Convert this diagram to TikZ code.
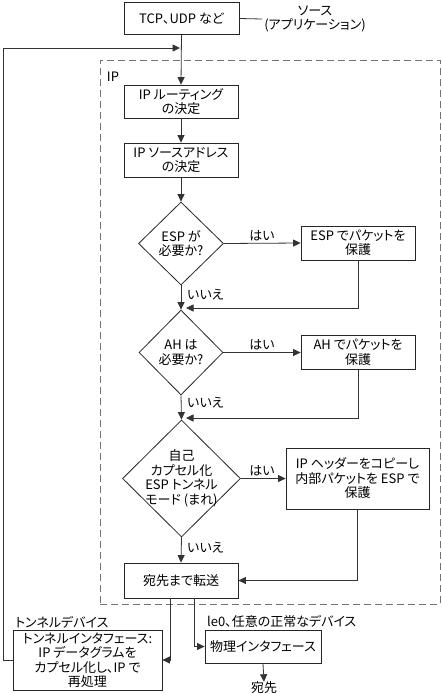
\documentclass[tikz,border=0pt]{standalone}
\usepackage{fontspec}
\setmainfont{Noto Sans CJK JP}[RawFeature=+palt]
\usetikzlibrary{shapes.geometric,arrows.meta}
\begin{document}
\begin{tikzpicture}[x=1pt,y=-1pt,
  every node/.style={font=\fontsize{13}{14.5}\selectfont, inner sep=0pt, align=center},
  box/.style={draw=black!85, line width=0.8pt, minimum width=114pt, minimum height=34pt},
  dia/.style={diamond, draw=black!85, line width=0.8pt},
  ipframe/.style={draw=black!55, line width=1pt, dash pattern=on 7pt off 4pt},
  ln/.style={draw=black!80, line width=0.8pt},
  arr/.style={ln, -{Triangle[length=7.5pt,width=7pt]}}
]
\useasboundingbox (0,0) rectangle (442,694);

% frame
\node[ipframe, minimum width=340pt, minimum height=544pt] (ipbox) at (270,332) {};
\node (iplab) at (113,77) {IP};

% nodes
\node[box, minimum width=115pt, minimum height=32pt] (top) at (181.5,18.5) {TCP、UDP など};
\node (srclab) at (315,19) {ソース\\(アプリケーション)};
\coordinate (loopin) at (180,48);
\node[box, minimum height=33pt] (route) at (181,101.5) {IP ルーティング\\の決定};
\node[box] (saddr) at (181,160) {IP ソースアドレス\\の決定};

\node[dia, minimum width=85pt, minimum height=83pt] (espd) at (181,243.5) {};
\node (espdt) at (espd.center) {ESP が\\必要か?};
\node[box] (espbox) at (358,243) {ESP でパケットを\\保護};
\coordinate (m1) at (186,308);

\node[dia, minimum width=84pt, minimum height=85pt] (ahd) at (181,352.5) {};
\node (ahdt) at (ahd.center) {AH は\\必要か?};
\node[box] (ahbox) at (358,352.5) {AH でパケットを\\保護};
\coordinate (m2) at (186,418);

\node[dia, minimum width=118pt, minimum height=117pt] (selfd) at (181.5,478.5) {};
\node (selfdt) at (selfd.center) {自己\\カプセル化\\ESP トンネル\\モード (まれ)};
\node[box, minimum width=143pt, minimum height=61pt] (big) at (357.5,478.5) {IP ヘッダーをコピーし\\内部パケットを ESP で\\保護};

\node[box, minimum height=35pt] (fwd) at (181,580.5) {宛先まで転送};

\node[box, minimum width=149pt, minimum height=60pt] (tun) at (87.5,660) {トンネルインタフェース:\\IP データグラムを\\カプセル化し、IP で\\再処理};
\node[anchor=west] (tunlab) at (15,622) {トンネルデバイス};
\node[box, minimum width=116pt, minimum height=33pt] (phys) at (263,646.5) {物理インタフェース};
\node[anchor=west] (physlab) at (207,621) {le0、任意の正常なデバイス};
\node (dest) at (264,688) {宛先};

% labels
\node[anchor=west] (no1) at (187,295) {いいえ};
\node (yes1) at (262,236) {はい};
\node[anchor=west] (no2) at (187,403) {いいえ};
\node (yes2) at (262,345) {はい};
\node[anchor=west] (no3) at (187,548) {いいえ};
\node (yes3) at (262,471) {はい};

% connectors
\draw[ln] (top.east) -- ([xshift=-2pt]srclab.west);
\draw[arr] (top.south) -- (route.north);
\draw[arr] (tun.west) -- ++(-9,0) |- (loopin);
\draw[arr] (route.south) -- (saddr.north);
\draw[arr] (saddr.south) -- (espd.north);
\draw[arr] (espd.east) -- (espbox.west);
\draw[arr] (espd.south) -- (ahd.north);
\draw[arr] (espbox.south) |- (m1);
\draw[arr] (ahd.east) -- (ahbox.west);
\draw[arr] (ahd.south) -- (selfd.north);
\draw[arr] (ahbox.south) |- (m2);
\draw[arr] (selfd.east) -- (big.west);
\draw[arr] (selfd.south) -- (fwd.north);
\draw[arr] (big.south) |- (fwd.east);
\draw[arr] ([xshift=-11pt]fwd.south) |- (tun.east);
\draw[arr] ([xshift=13pt]fwd.south) |- (phys.west);
\draw[arr] (phys.south) -- (dest.north);
\end{tikzpicture}
\end{document}
